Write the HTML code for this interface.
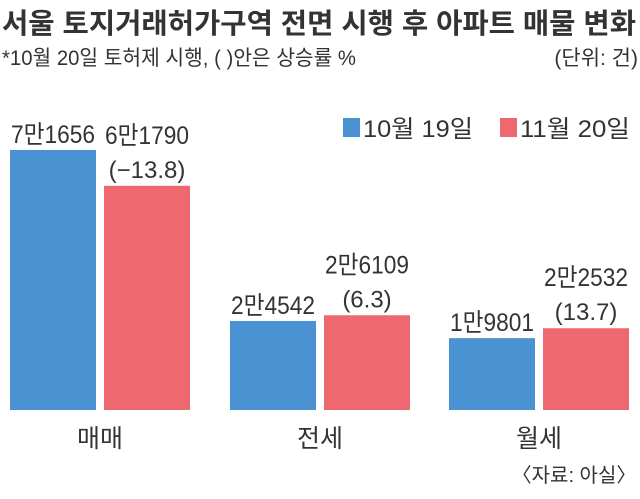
<!DOCTYPE html>
<html><head><meta charset="utf-8"><style>
body{margin:0;background:#fff;}
svg text{font-family:"Liberation Sans","Noto Sans CJK KR",sans-serif;fill:#333;}
</style></head><body>
<svg width="640" height="494" viewBox="0 0 640 494">
<text x="2" y="33" font-size="28" font-weight="bold" textLength="634" lengthAdjust="spacingAndGlyphs">서울 토지거래허가구역 전면 시행 후 아파트 매물 변화</text>
<text x="2" y="65" font-size="21" textLength="354" lengthAdjust="spacingAndGlyphs">*10월 20일 토허제 시행, ( )안은 상승률 %</text>
<text x="638" y="65" font-size="21" text-anchor="end">(단위: 건)</text>
<g>
<rect x="343" y="118" width="17" height="19" fill="#4a92d2"/>
<text x="363" y="137" font-size="24" textLength="110" lengthAdjust="spacingAndGlyphs">10월 19일</text>
<rect x="500" y="118" width="17" height="19" fill="#ee6870"/>
<text x="520" y="137" font-size="24" textLength="110" lengthAdjust="spacingAndGlyphs">11월 20일</text>
</g>
<g id="bars"></g>
<text x="574" y="482" font-size="20" text-anchor="middle">〈자료: 아실〉</text>
</svg>
<script>
const categories=["매매","전세","월세"];
const seriesOct=[71656,24542,19801];
const seriesNov=[61790,26109,22532];
const labelsOct=["7만1656","2만4542","1만9801"];
const labelsNov=["6만1790","2만6109","2만2532"];
const changes=["(−13.8)","(6.3)","(13.7)"];
const NS="http://www.w3.org/2000/svg";
const g=document.getElementById('bars');
const base=410, k=260/71656;
const groupX=[10,230,449], bw=86, gap=8;
function y(v){return base-v*k;}
function mk(t,a){const e=document.createElementNS(NS,t);for(const n in a)e.setAttribute(n,a[n]);g.appendChild(e);return e;}
categories.forEach((c,i)=>{
 const x1=groupX[i], x2=x1+bw+gap;
 const b1=mk('rect',{x:x1,y:y(seriesOct[i]),width:bw,height:seriesOct[i]*k,fill:'#4a92d2'});
 
 
 const b2=mk('rect',{x:x2,y:y(seriesNov[i]),width:bw,height:seriesNov[i]*k,fill:'#ee6870'});
 
 
 const t1=mk('text',{x:x1+bw/2,y:y(seriesOct[i])-7,'font-size':25,'text-anchor':'middle',textLength:84,lengthAdjust:'spacingAndGlyphs'});
 t1.textContent=labelsOct[i];
 
 
 const t2=mk('text',{x:x2+bw/2,y:y(seriesNov[i])-42,'font-size':25,'text-anchor':'middle',textLength:84,lengthAdjust:'spacingAndGlyphs'});
 t2.textContent=labelsNov[i];
 
 
 const t3=mk('text',{x:x2+bw/2,y:y(seriesNov[i])-8,'font-size':24,'text-anchor':'middle'});
 t3.textContent=changes[i];
 
 
 const t4=mk('text',{x:x1+bw+gap/2,y:447,'font-size':25,'text-anchor':'middle'});
 t4.textContent=c;
 
 
});
</script>
</body></html>
